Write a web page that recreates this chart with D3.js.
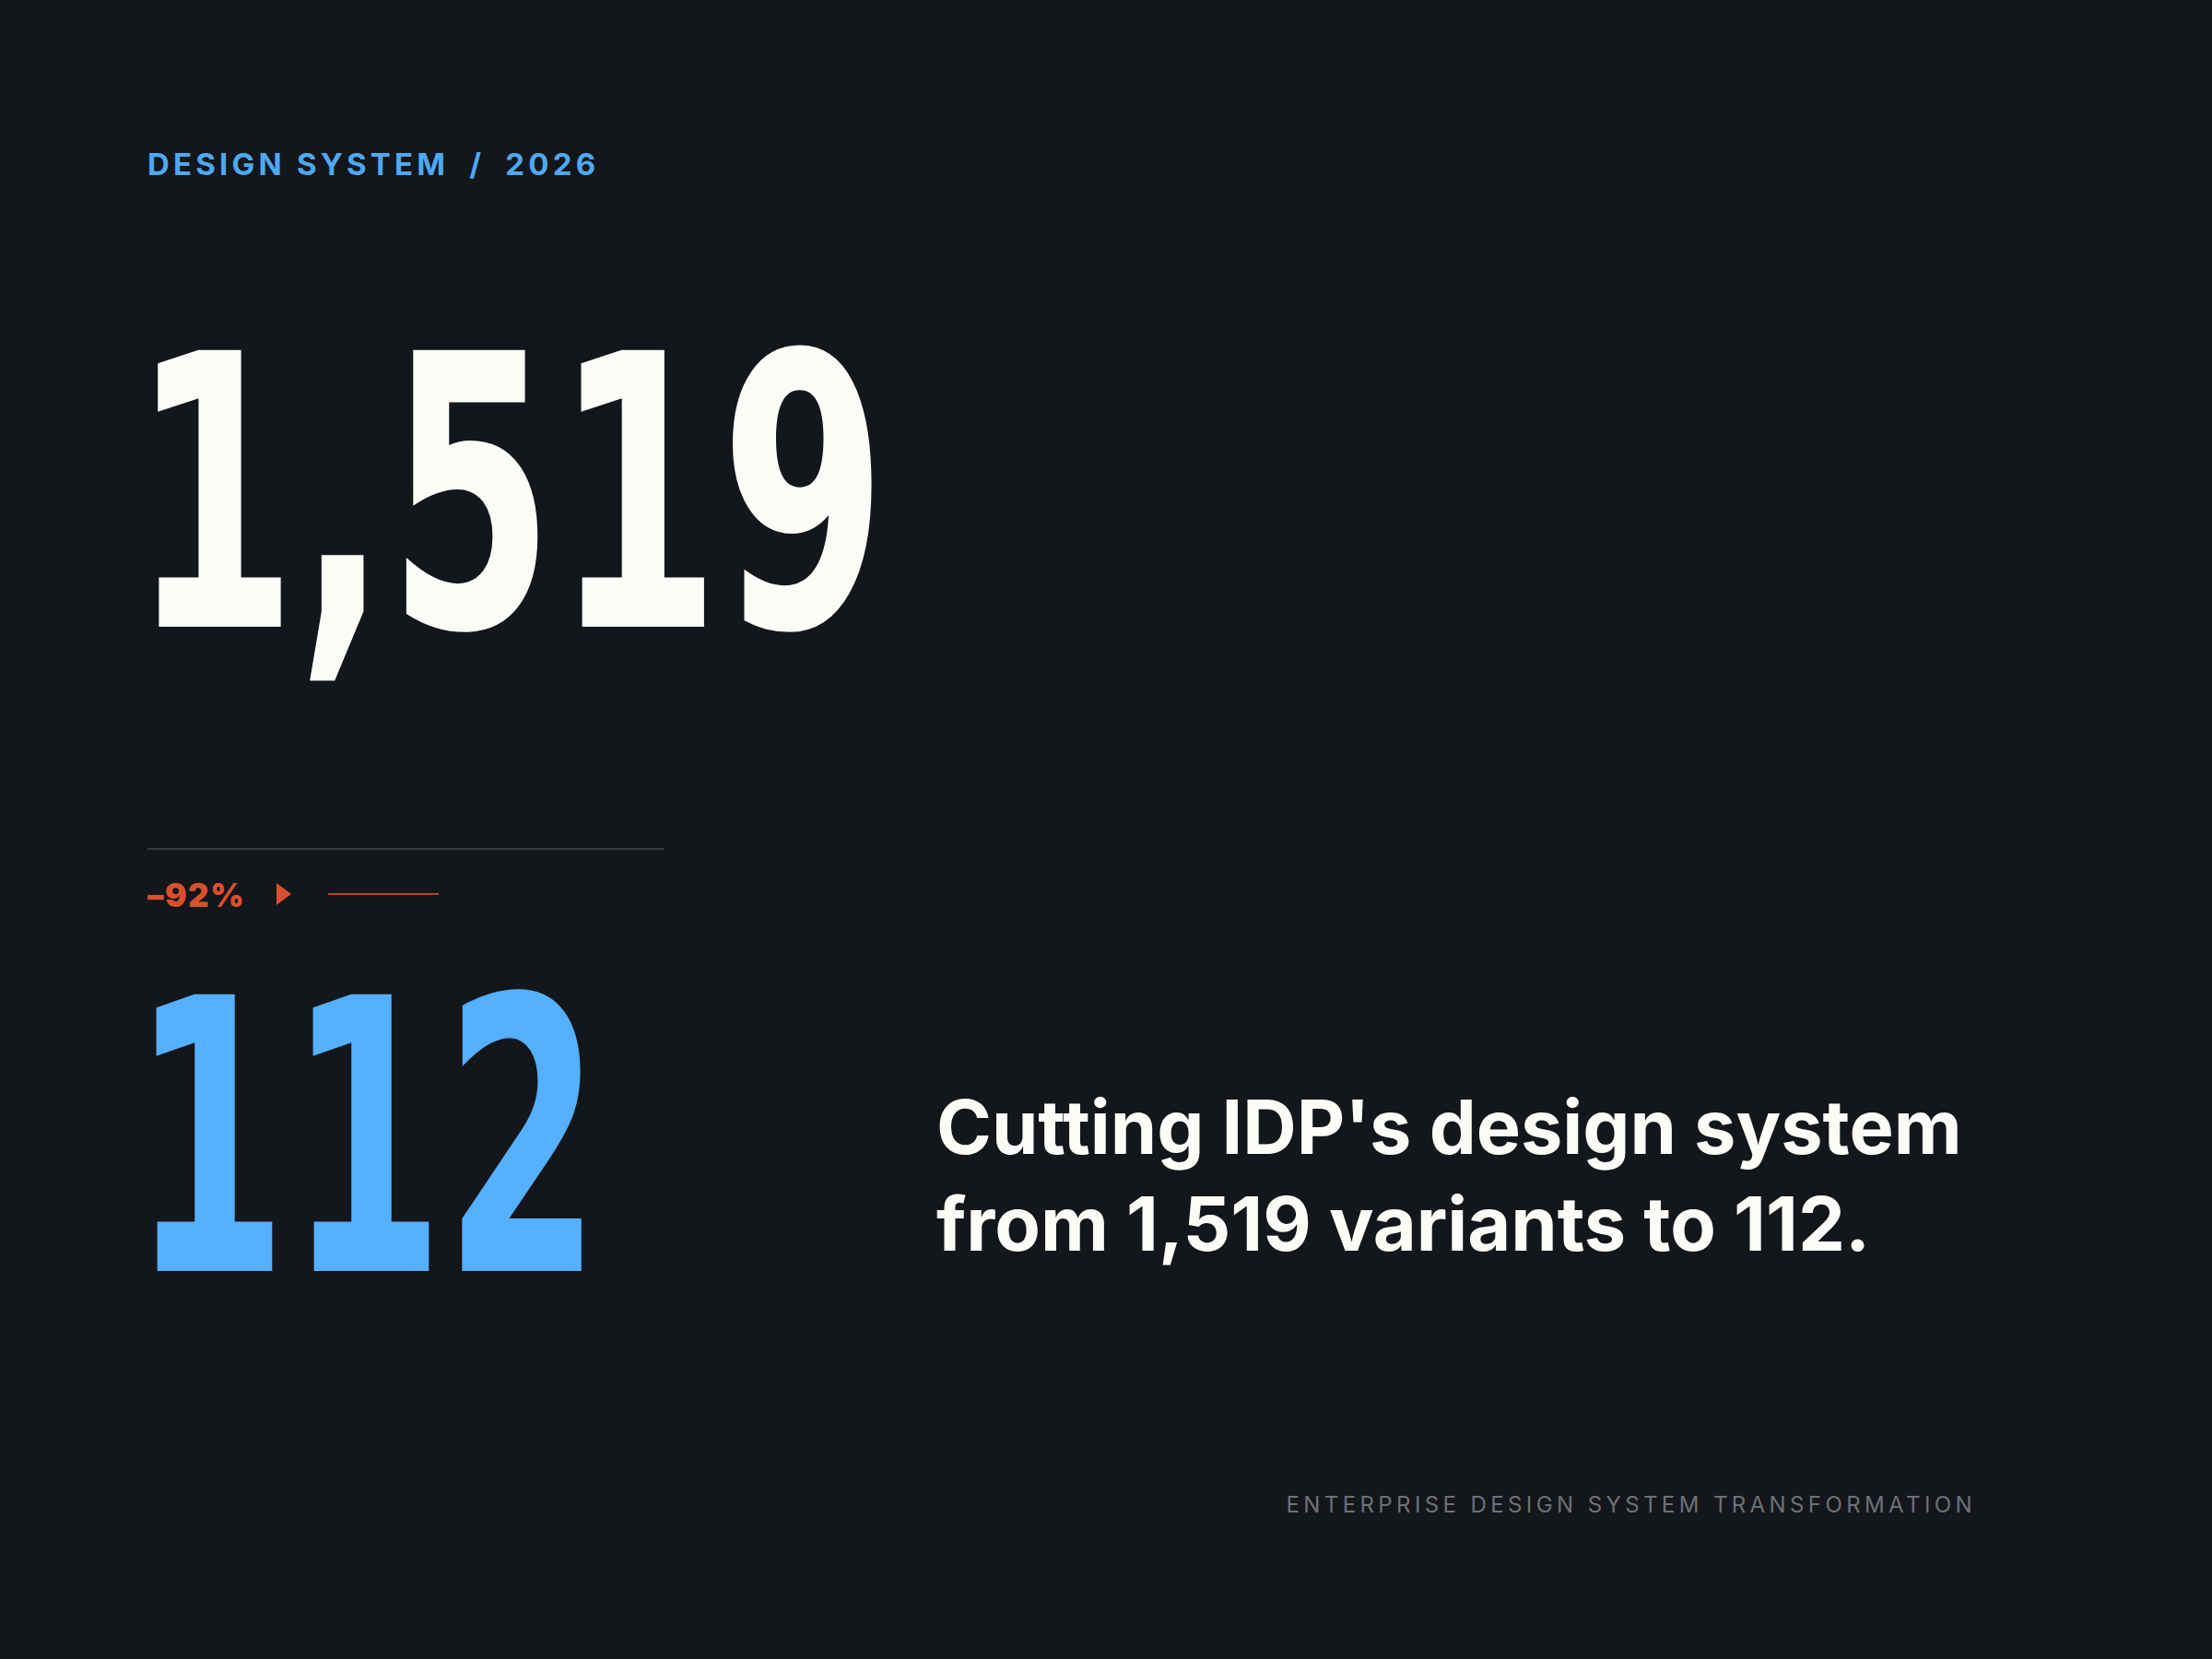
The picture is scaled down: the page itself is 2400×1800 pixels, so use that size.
<!DOCTYPE html>
<html><head><meta charset="utf-8">
<script src="https://cdn.jsdelivr.net/npm/d3@7"></script>
<style>html,body{margin:0;padding:0;background:#13161b;}</style>
</head><body>
<script>
const eyebrow = ["DESIGN SYSTEM", "/", "2026"];
const values = [1519, 112];
const changePct = [-92];
const headline = ["Cutting IDP's design system", "from 1,519 variants to 112."];
const footer = ["ENTERPRISE DESIGN SYSTEM TRANSFORMATION"];

const W = 2400, H = 1800;
const svg = d3.select("body").append("svg").attr("width", W).attr("height", H);
svg.append("rect").attr("width", W).attr("height", H).attr("fill", "#13161b");

const fmt = d3.format(",");
const eb = svg.append("text").attr("x", 160).attr("y", 190)
  .attr("font-family", "Inter").attr("font-weight", 700).attr("font-size", 33)
  .attr("letter-spacing", 4.2).attr("fill", "#4ea8f2");
eb.selectAll("tspan").data(eyebrow).join("tspan")
  .attr("dx", (d, i) => i === 0 ? 0 : 22).text(d => d);

// big numbers
const y = d3.scaleOrdinal().domain(values).range([680, 1379]);
const widths = d3.scaleOrdinal().domain(values).range([820, 510]);
const colors = d3.scaleOrdinal().domain(values).range(["#fbfcf7", "#55b0ff"]);
svg.selectAll("text.big").data(values).join("text").attr("class", "big")
  .attr("x", 142).attr("y", d => y(d))
  .attr("font-family", "DejaVu Sans Condensed").attr("font-weight", 700)
  .attr("font-size", 412).attr("fill", d => colors(d))
  .attr("textLength", d => widths(d)).attr("lengthAdjust", "spacingAndGlyphs")
  .text(d => fmt(d));

// divider
svg.append("line").attr("x1", 160).attr("x2", 720).attr("y1", 921).attr("y2", 921)
  .attr("stroke", "#3a3d42").attr("stroke-width", 2);

const red = "#d9502e";
svg.append("text").attr("x", 160).attr("y", 984)
  .attr("font-family", "Inter").attr("font-weight", 900).attr("font-size", 35)
  .attr("letter-spacing", 1.5)
  .attr("fill", red).text("\u2013" + Math.abs(changePct[0]) + "%");
svg.append("path").attr("d", "M300,958 L316,970 L300,982 Z").attr("fill", red);
svg.append("line").attr("x1", 356).attr("x2", 476).attr("y1", 970).attr("y2", 970)
  .attr("stroke", red).attr("stroke-width", 2).attr("opacity", 0.8);

// headline
svg.selectAll("text.hl").data(headline).join("text").attr("class", "hl")
  .attr("x", 1016).attr("y", (d, i) => 1252 + i * 105)
  .attr("font-family", "Inter").attr("font-weight", 700).attr("font-size", 81)
  .attr("fill", "#fbfcf7").text(d => d);

svg.append("text").attr("x", 2144).attr("y", 1641).attr("text-anchor", "end")
  .attr("font-family", "Inter").attr("font-weight", 400).attr("font-size", 24)
  .attr("letter-spacing", 4.4).attr("fill", "#6e7176").text(footer[0]);
</script>
</body></html>
